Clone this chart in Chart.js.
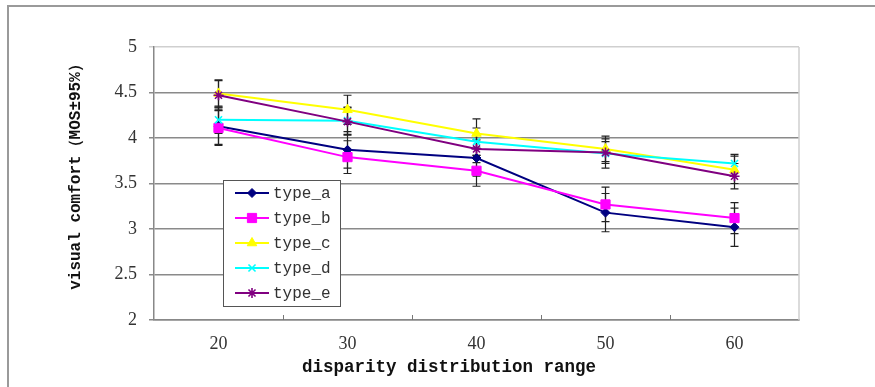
<!DOCTYPE html>
<html>
<head>
<meta charset="utf-8">
<script src="https://cdn.jsdelivr.net/npm/chart.js@4.4.1/dist/chart.umd.min.js"></script>
<style>
  html, body { margin: 0; padding: 0; background: #fff; overflow: hidden; }
  #wrap { width: 875px; height: 387px; position: relative; }
</style>
</head>
<body>
<div id="wrap"><canvas id="comfortChart"></canvas></div>
<script>
// data
const categories = ["20", "30", "40", "50", "60"];
const seriesNames = ["type_a", "type_b", "type_c", "type_d", "type_e"];
const typeA = [4.13, 3.87, 3.78, 3.18, 3.02];
const typeB = [4.11, 3.79, 3.64, 3.27, 3.12];
const typeC = [4.49, 4.31, 4.05, 3.88, 3.65];
const typeD = [4.20, 4.19, 3.96, 3.83, 3.72];
const typeE = [4.47, 4.18, 3.88, 3.84, 3.58];
// 95% half-widths
const errA = [0.20, 0.20, 0.20, 0.21, 0.21];
const errB = [0.19, 0.18, 0.17, 0.19, 0.17];
const errC = [0.15, 0.16, 0.16, 0.14, 0.15];
const errD = [0.15, 0.15, 0.15, 0.16, 0.10];
const errE = [0.16, 0.15, 0.15, 0.12, 0.14];
const yTicks = [2, 2.5, 3, 3.5, 4, 4.5, 5];

const colors = ["#000080", "#ff00ff", "#ffff00", "#00ffff", "#800080"];
const markers = ["rectRot", "rect", "triangle", "crossRot", "star"];
const markerSize = [4.5, 6.5, 5.5, 5, 5];
const values = [typeA, typeB, typeC, typeD, typeE];
const errors = [errA, errB, errC, errD, errE];

const datasets = seriesNames.map((name, i) => ({
    label: name,
    data: values[i],
    borderColor: colors[i],
    backgroundColor: colors[i],
    borderWidth: 2,
    tension: 0,
    pointStyle: markers[i],
    pointRadius: markerSize[i],
    pointBorderWidth: i >= 3 ? 1.6 : 1,
    pointBorderColor: colors[i],
    pointBackgroundColor: colors[i],
    order: 5 - i,
}));

// error bars, outer frame, inside ticks
const extras = {
    id: "extras",
    beforeDraw(chart) {
        const c = chart.ctx;
        c.save();
        c.strokeStyle = "#9a9a9a";
        c.lineWidth = 2;
        c.beginPath();
        c.moveTo(8, 387);
        c.lineTo(8, 6);
        c.lineTo(875, 6);
        c.stroke();
        c.restore();
    },
    beforeDatasetsDraw(chart) {
        const c = chart.ctx;
        const x = chart.scales.x, y = chart.scales.y;
        c.save();
        c.strokeStyle = "#222";
        c.lineWidth = 1.2;
        values.forEach((vals, s) => {
            vals.forEach((v, i) => {
                const px = x.getPixelForValue(i);
                const top = y.getPixelForValue(v + errors[s][i]);
                const bot = y.getPixelForValue(v - errors[s][i]);
                c.beginPath();
                c.moveTo(px, top); c.lineTo(px, bot);
                c.moveTo(px - 4, top); c.lineTo(px + 4, top);
                c.moveTo(px - 4, bot); c.lineTo(px + 4, bot);
                c.stroke();
            });
        });
        c.restore();
    },
    afterDraw(chart) {
        const c = chart.ctx;
        const a = chart.chartArea;
        const x = chart.scales.x;
        c.save();
        // right edge of plot
        c.strokeStyle = "#cfcfcf";
        c.lineWidth = 1.5;
        c.beginPath();
        c.moveTo(a.right, a.top); c.lineTo(a.right, a.bottom);
        c.stroke();
        // small ticks between categories
        c.strokeStyle = "#777";
        c.lineWidth = 1;
        for (let i = 0; i < categories.length - 1; i++) {
            const px = Math.round((x.getPixelForValue(i) + x.getPixelForValue(i + 1)) / 2) + 0.5;
            c.beginPath();
            c.moveTo(px, a.bottom); c.lineTo(px, a.bottom - 5);
            c.stroke();
        }
        // axis titles
        c.fillStyle = "#111";
        c.font = "bold 17.5px 'Liberation Mono'";
        c.textAlign = "center";
        c.textBaseline = "middle";
        c.fillText("disparity distribution range", 449, 368);
        c.translate(76, 173);
        c.rotate(-Math.PI / 2);
        c.font = "bold 16px 'Liberation Mono'";
        c.fillText("visual comfort（MOS±95%）", 0, 0);
        c.restore();

        // legend box
        c.save();
        c.fillStyle = "#fff";
        c.fillRect(223, 180, 117, 126);
        c.strokeStyle = "#555";
        c.lineWidth = 1;
        c.strokeRect(223.5, 180.5, 117, 126);
        chart.data.datasets.forEach((ds, i) => {
            const ly = 193 + i * 25;
            c.strokeStyle = ds.borderColor;
            c.lineWidth = 2;
            c.beginPath();
            c.moveTo(235, ly); c.lineTo(269, ly);
            c.stroke();
            c.fillStyle = ds.backgroundColor;
            c.lineWidth = ds.pointBorderWidth;
            Chart.helpers.drawPoint(c, {
                pointStyle: ds.pointStyle,
                radius: ds.pointRadius,
                rotation: 0,
                borderWidth: ds.pointBorderWidth,
            }, 252, ly);
            c.fillStyle = "#333";
            c.font = "16px 'Liberation Mono'";
            c.textAlign = "left";
            c.textBaseline = "middle";
            c.fillText(ds.label, 273, ly + 1);
        });
        c.restore();
    },
};

const ctx = document.getElementById("comfortChart").getContext("2d");
const comfortChart = new Chart(ctx, {
    type: "line",
    data: {
        labels: categories,
        datasets: datasets,
    },
    options: {
        responsive: true,
        maintainAspectRatio: false,
        animation: false,
        layout: {
            padding: { top: 47, right: 76, left: 0, bottom: 0 },
        },
        plugins: {
            legend: { display: false },
            tooltip: { enabled: false },
        },
        scales: {
            x: {
                offset: true,
                grid: { display: false },
                border: { display: true, color: "#888", width: 1.5 },
                ticks: {
                    color: "#333",
                    padding: 5,
                    font: { family: "'Liberation Serif'", size: 18 },
                },
                afterFit(scale) { scale.height = 67; },
            },
            y: {
                min: 2,
                max: 5,
                afterBuildTicks(scale) {
                    scale.ticks = yTicks.map(v => ({ value: v }));
                },
                grid: {
                    color: (c) => (c.tick && c.tick.value === 5 ? "#cfcfcf" : "#8a8a8a"),
                    lineWidth: 1.5,
                    tickLength: 5,
                },
                border: { display: true, color: "#888", width: 1.5 },
                ticks: {
                    color: "#333",
                    padding: 12,
                    font: { family: "'Liberation Serif'", size: 18 },
                    callback: (v) => String(v),
                },
                afterFit(scale) { scale.width = 154; },
            },
        },
    },
    plugins: [extras],
});
</script>
</body>
</html>
